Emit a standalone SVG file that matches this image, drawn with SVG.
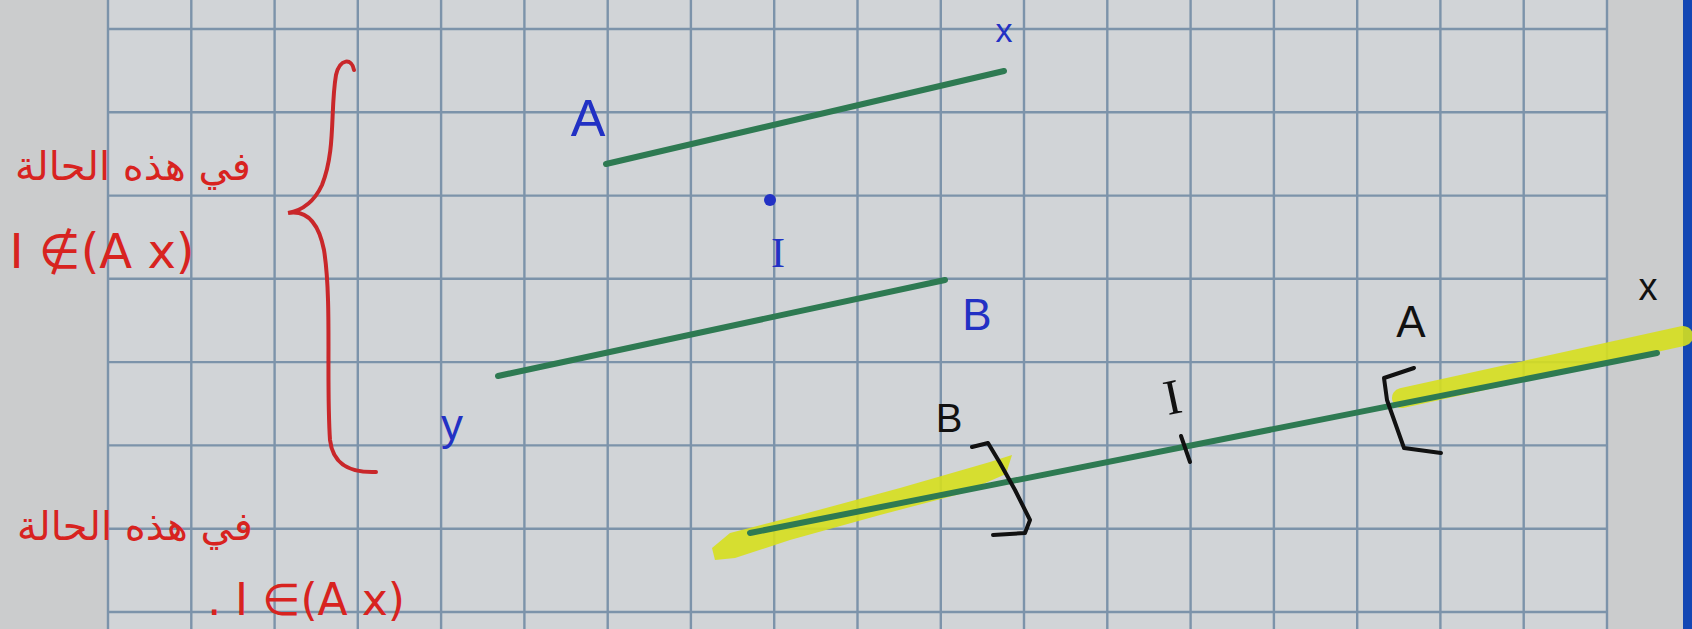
<svg xmlns="http://www.w3.org/2000/svg" width="1692" height="629" viewBox="0 0 1692 629">
<style>
.grid{stroke:#7c93aa;stroke-width:2.4;fill:none}
.seg{stroke:#2e7a52;stroke-width:6;stroke-linecap:round;fill:none}
.hl{fill:#d6df1e;opacity:0.9}
.blue{fill:#2231c4;font-family:"Liberation Sans",sans-serif}
.blk{fill:#111;font-family:"Liberation Sans",sans-serif}
.serif{font-family:"Liberation Serif",serif}
.red{fill:#d8231f;font-family:"DejaVu Sans",sans-serif}
.ink{stroke:#111;stroke-width:4;fill:none;stroke-linecap:round;stroke-linejoin:round}
</style>
<rect x="0" y="0" width="1692" height="629" fill="#cbcccd"/>
<rect x="108" y="0" width="1499" height="629" fill="#d1d4d7"/>
<rect x="1683" y="0" width="9" height="629" fill="#1347b4"/>
<g id="grid" class="grid">
<path d="M108,0V629M191.3,0V629M274.6,0V629M357.8,0V629M441.1,0V629M524.4,0V629M607.7,0V629M690.9,0V629M774.2,0V629M857.5,0V629M940.8,0V629M1024,0V629M1107.3,0V629M1190.6,0V629M1273.9,0V629M1357.2,0V629M1440.4,0V629M1523.7,0V629M1607,0V629"/>
<path d="M108,29H1607M108,112.3H1607M108,195.6H1607M108,278.8H1607M108,362.1H1607M108,445.4H1607M108,528.7H1607M108,612H1607"/>
</g>
<g id="highlights">
<path class="hl" d="M712,548 L730,533 L800,515 L900,488 L990,462 L1012,455 L1006,474 L960,494 L880,515 L790,540 L735,558 L715,560 Z"/>
<path d="M1402,398 L1683,336" stroke="#d6df1e" stroke-width="20" stroke-linecap="round" opacity="0.9" fill="none"/>
</g>
<g id="connectors">
<line class="seg" x1="606" y1="164" x2="1004" y2="71"/>
<line class="seg" x1="498" y1="376" x2="945" y2="280"/>
<line class="seg" x1="750" y1="533" x2="1657" y2="353"/>
</g>
<g id="brace">
<path d="M354,70 C352,58 340,58 336,75 C330,110 336,150 322,185 C315,200 305,210 288,213 C305,210 318,220 324,250 C332,300 326,380 330,440 C333,465 350,473 376,472" stroke="#c9272a" stroke-width="4" fill="none" stroke-linecap="round"/>
</g>
<g id="top-figure">
<text class="blue" x="588" y="136" font-size="52" text-anchor="middle">A</text>
<text class="blue" x="1004" y="42" font-size="34" text-anchor="middle">x</text>
<circle cx="770" cy="200" r="6" fill="#2231c4"/>
<text class="blue serif" x="778" y="267" font-size="42" text-anchor="middle">I</text>
<text class="blue" x="977" y="330" font-size="44" text-anchor="middle">B</text>
<text class="blue" x="452" y="440" font-size="44" text-anchor="middle">y</text>
</g>
<g id="bottom-figure">
<text class="blk" x="949" y="432" font-size="40" text-anchor="middle">B</text>
<path class="ink" d="M972,447 L988,443 L1000,463 L1015,490 L1030,520 L1025,533 L993,535"/>
<text class="blk serif" x="1172" y="414" font-size="50" text-anchor="middle" transform="rotate(-12 1172 395)">I</text>
<path class="ink" d="M1181,436 L1190,462" stroke-width="5"/>
<text class="blk" x="1411" y="337" font-size="44" text-anchor="middle">A</text>
<path class="ink" d="M1414,368 L1384,378 L1387,400 L1404,448 L1441,453"/>
<text class="blk" x="1648" y="300" font-size="38" text-anchor="middle">x</text>
</g>
<g id="notes">
<text class="red" x="133" y="180" font-size="40" text-anchor="middle">في هذه الحالة</text>
<text class="red" x="102" y="268" font-size="48" text-anchor="middle">I ∉(A x)</text>
<text class="red" x="135" y="540" font-size="40" text-anchor="middle">في هذه الحالة</text>
<text class="red" x="306" y="615" font-size="44" text-anchor="middle">. I ∈(A x)</text>
</g>
</svg>
